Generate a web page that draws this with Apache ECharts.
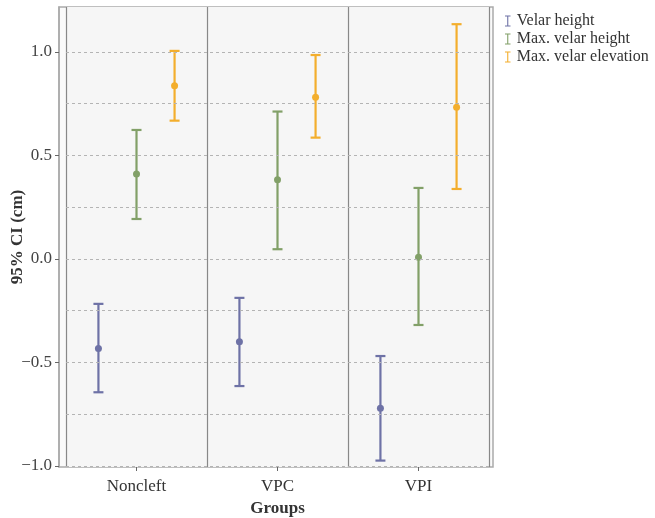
<!DOCTYPE html>
<html>
<head>
<meta charset="utf-8">
<script src="https://cdn.jsdelivr.net/npm/echarts@6/dist/echarts.min.js"></script>
<style>
  html, body { margin: 0; padding: 0; background: #fff; }
  #chart { width: 655px; height: 518px; }
</style>
</head>
<body>
<div id="chart"></div>
<script>
// groups on the x axis
const groups = ['Noncleft', 'VPC', 'VPI']
const seriesNames = ['Velar height', 'Max. velar height', 'Max. velar elevation']
const colors = ['#6e72a6', '#82a068', '#f3ae2d']

// mean, lower, upper per group
const velarMean = [-0.433, -0.40, -0.721]
const velarLow = [-0.644, -0.614, -0.974]
const velarHigh = [-0.217, -0.188, -0.469]

const maxHeightMean = [0.41, 0.383, 0.008]
const maxHeightLow = [0.193, 0.047, -0.319]
const maxHeightHigh = [0.623, 0.712, 0.343]

const maxElevMean = [0.837, 0.781, 0.733]
const maxElevLow = [0.668, 0.586, 0.338]
const maxElevHigh = [1.005, 0.985, 1.134]

const yTicks = [-1.0, -0.5, 0.0, 0.5, 1.0]
const gridLines = [-1.0, -0.75, -0.5, -0.25, 0, 0.25, 0.5, 0.75, 1.0]

const means = [velarMean, maxHeightMean, maxElevMean]
const lows = [velarLow, maxHeightLow, maxElevLow]
const highs = [velarHigh, maxHeightHigh, maxElevHigh]
const offsets = [-0.27, 0, 0.27]

const serif = '"Liberation Serif", "DejaVu Serif", serif'
const Y_MIN = -1.005
const Y_MAX = 1.217
const iconPath = 'path://M0,0 H10 V2 H6 V18 H10 V20 H0 V18 H4 V2 H0 Z'

const chart = echarts.init(document.getElementById('chart'))

const errorSeries = seriesNames.map((name, s) => ({
  name: name,
  type: 'custom',
  xAxisIndex: 1,
  yAxisIndex: 1,
  itemStyle: { color: colors[s] },
  data: groups.map((g, i) => [i, means[s][i], lows[s][i], highs[s][i]]),
  renderItem: (params, api) => {
    const band = api.size([1, 0])[0]
    const x = api.coord([api.value(0), 0])[0] + offsets[s] * band
    const yMean = api.coord([0, api.value(1)])[1]
    const yLow = api.coord([0, api.value(2)])[1]
    const yHigh = api.coord([0, api.value(3)])[1]
    const cap = 5
    const style = { stroke: colors[s], lineWidth: 2.2, fill: null }
    return {
      type: 'group',
      children: [
        { type: 'line', shape: { x1: x, y1: yLow, x2: x, y2: yHigh }, style: style },
        { type: 'line', shape: { x1: x - cap, y1: yLow, x2: x + cap, y2: yLow }, style: style },
        { type: 'line', shape: { x1: x - cap, y1: yHigh, x2: x + cap, y2: yHigh }, style: style },
        { type: 'circle', shape: { cx: x, cy: yMean, r: 3.5 }, style: { fill: colors[s] } }
      ]
    }
  }
}))

// dashed horizontal grid lines inside the panels
errorSeries[0].markLine = {
  silent: true,
  symbol: 'none',
  label: { show: false },
  lineStyle: { color: '#b4b4b4', type: [3, 3], width: 1 },
  data: gridLines.map(v => ({ yAxis: v }))
}

const option = {
  animation: false,
  grid: [
    // outer frame with the y axis
    { left: 59, right: 162, top: 7, bottom: 51, outerBoundsMode: 'none', show: true, borderColor: '#aaa', borderWidth: 1.5, backgroundColor: '#fafafa' },
    // inner panels
    { left: 66, right: 166, top: 7, bottom: 51, outerBoundsMode: 'none', show: true, borderWidth: 0, backgroundColor: '#f6f6f6' }
  ],
  legend: {
    orient: 'vertical',
    left: 500,
    top: 8,
    itemWidth: 6,
    itemHeight: 11,
    itemGap: 2,
    icon: iconPath,
    textStyle: { fontFamily: serif, fontSize: 16, color: '#333', padding: [0, 0, 0, 1] },
    data: seriesNames
  },
  xAxis: [
    { gridIndex: 0, type: 'value', show: false, min: 0, max: 1 },
    {
      gridIndex: 1,
      type: 'category',
      data: groups,
      name: 'Groups',
      nameLocation: 'middle',
      nameGap: 33,
      nameMoveOverlap: false,
      nameTextStyle: { fontFamily: serif, fontSize: 17, fontWeight: 'bold', color: '#333' },
      axisLine: { show: false, onZero: false },
      axisTick: { show: true, alignWithLabel: true, length: 4, lineStyle: { color: '#666' } },
      axisLabel: { fontFamily: serif, fontSize: 17, color: '#333', margin: 11 },
      splitLine: { show: true, lineStyle: { color: '#888', width: 1.2 } }
    }
  ],
  yAxis: [
    {
      gridIndex: 0,
      type: 'value',
      min: Y_MIN,
      max: Y_MAX,
      name: '95% CI (cm)',
      nameLocation: 'middle',
      nameGap: 33,
      nameMoveOverlap: false,
      nameTextStyle: { fontFamily: serif, fontSize: 17, fontWeight: 'bold', color: '#333' },
      axisLine: { show: true, onZero: false, lineStyle: { color: '#aaa', width: 1.5 } },
      axisTick: { show: true, length: 4, customValues: yTicks, lineStyle: { color: '#666' } },
      axisLabel: {
        fontFamily: serif, fontSize: 17, color: '#444', margin: 7,
        customValues: yTicks,
        formatter: v => (v < 0 ? '\u2212' + Math.abs(v).toFixed(1) : v.toFixed(1))
      },
      splitLine: { show: false }
    },
    {
      gridIndex: 1,
      type: 'value',
      min: Y_MIN,
      max: Y_MAX,
      show: false,
      splitLine: { show: false }
    }
  ],
  series: errorSeries
}

chart.setOption(option)
</script>
</body>
</html>
